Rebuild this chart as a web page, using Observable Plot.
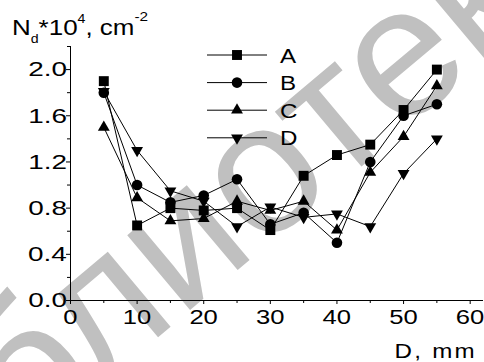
<!DOCTYPE html>
<html>
<head>
<meta charset="utf-8">
<script src="https://cdn.jsdelivr.net/npm/d3@7"></script>
<script src="https://cdn.jsdelivr.net/npm/@observablehq/plot@0.6"></script>
<style>
  html, body { margin: 0; padding: 0; background: #fff; }
  #chart { position: relative; width: 484px; height: 362px; overflow: hidden; }
  svg { font-family: "Liberation Sans", Arial, sans-serif; }
</style>
</head>
<body>
<div id="chart"></div>
<script>
// ---- data ----
const xValues = [5, 10, 15, 20, 25, 30, 35, 40, 45, 50, 55];
const seriesNames = ["A", "B", "C", "D"];
const seriesA = [1.90, 0.65, 0.80, 0.78, 0.80, 0.61, 1.08, 1.26, 1.35, 1.65, 2.00];
const seriesB = [1.80, 1.00, 0.85, 0.91, 1.05, 0.66, 0.76, 0.50, 1.20, 1.60, 1.70];
const seriesC = [1.50, 0.89, 0.69, 0.71, 0.86, 0.78, 0.86, 0.61, 1.11, 1.42, 1.86];
const seriesD = [1.81, 1.30, 0.95, 0.86, 0.64, 0.81, 0.72, 0.75, 0.64, 1.10, 1.40];
const xTicks = [0, 10, 20, 30, 40, 50, 60];
const xMinorTicks = [5, 15, 25, 35, 45, 55];
const yTicks = [0, 0.4, 0.8, 1.2, 1.6, 2.0];
const yMinorTicks = [0.2, 0.6, 1.0, 1.4, 1.8, 2.2];
const xTitle = "D, mm";
const watermarkText = "библиотека";

// ---- styles ----
const seriesValues = [seriesA, seriesB, seriesC, seriesD];
const symbolOf = {A: "square", B: "circle", C: "triangle", D: "triangle"};
const rOf = {A: 5.6, B: 5.3, C: 4.4, D: 4.4};
const rotOf = {A: 0, B: 0, C: 0, D: 180};

const rows = [];
seriesNames.forEach((s, i) => xValues.forEach((x, j) => rows.push({s, x, y: seriesValues[i][j]})));

const marks = [
  Plot.ruleY([0], {stroke: "black", strokeWidth: 1}),
  Plot.ruleX([0], {stroke: "black", strokeWidth: 1}),
  Plot.axisX({ticks: xTicks, tickSize: 4, tickPadding: 5, fontSize: 21, label: null, stroke: "black", fill: "black", tickFormat: d => String(d)}),
  Plot.axisX({ticks: xMinorTicks, tickSize: 3, tickFormat: () => "", label: null, stroke: "black"}),
  Plot.axisY({ticks: yTicks, tickSize: 4, tickPadding: 1, fontSize: 21, label: null, stroke: "black", fill: "black", tickFormat: d3.format(".1f")}),
  Plot.axisY({ticks: yMinorTicks, tickSize: 3, tickFormat: () => "", label: null, stroke: "black"}),
  Plot.line(rows, {x: "x", y: "y", z: "s", stroke: "black", strokeWidth: 1})
];
seriesNames.forEach(s => {
  marks.push(Plot.dot(rows.filter(d => d.s === s), {
    x: "x", y: "y", symbol: symbolOf[s], r: rOf[s], rotate: rotOf[s], fill: "black", stroke: "none"
  }));
});

const svgEl = Plot.plot({
  width: 484, height: 362,
  marginLeft: 70, marginRight: 1, marginTop: 46, marginBottom: 62,
  style: {background: "transparent", fontFamily: "Liberation Sans, Arial, sans-serif", overflow: "visible"},
  x: {domain: [0, 62]},
  y: {domain: [0, 2.2]},
  marks
});
document.getElementById("chart").appendChild(svgEl);
const svg = d3.select(svgEl);

// horizontally stretch tick labels (the reference's text is wide) by wrapping each in a group
function stretchAll(selector, s, anchor) {
  const box = svgEl.getBoundingClientRect();
  svg.selectAll(selector).each(function() {
    const r = this.getBoundingClientRect();
    if (!r.width) return;
    const ax = (anchor === "end" ? r.right : (r.left + r.right) / 2) - box.left;
    const g = document.createElementNS("http://www.w3.org/2000/svg", "g");
    g.setAttribute("transform", `translate(${ax},0) scale(${s},1) translate(${-ax},0)`);
    this.parentNode.insertBefore(g, this);
    g.appendChild(this);
  });
}
stretchAll('g[aria-label="x-axis tick label"] text', 1.22, "middle");
stretchAll('g[aria-label="y-axis tick label"] text', 1.33, "end");

// watermark (behind everything)
const em = 185;
const wm = svg.insert("text", ":first-child")
  .attr("text-anchor", "start")
  .attr("font-size", em)
  .attr("font-family", "Liberation Sans, Arial, sans-serif")
  .attr("fill", "#c0c0c0")
  .text(watermarkText);
const pre = wm.node().getSubStringLength(0, 5);
wm.attr("transform", `translate(268,182) rotate(-40) translate(${-(pre + 0.278 * em)},${0.26 * em})`);

// y title
const yt = svg.append("text")
  .attr("text-anchor", "start")
  .attr("transform", "translate(12,35) scale(1.18,1)")
  .attr("font-size", 22).attr("fill", "black");
yt.append("tspan").text("N");
yt.append("tspan").attr("font-size", 12).attr("dy", 8).text("d");
yt.append("tspan").attr("dy", -8).text("*10");
yt.append("tspan").attr("font-size", 12).attr("dy", -12).text("4");
yt.append("tspan").attr("dy", 12).text(", cm");
yt.append("tspan").attr("font-size", 13).attr("dy", -14).text("-2");

// x title
svg.append("text")
  .attr("transform", "translate(477,358) scale(1.15,1)")
  .attr("text-anchor", "end").attr("font-size", 21).attr("letter-spacing", 2)
  .attr("fill", "black").text(xTitle);

// legend
const lg = svg.append("g");
seriesNames.forEach((s, i) => {
  const cy = 55 + i * 27.6;
  lg.append("line").attr("x1", 207).attr("x2", 267).attr("y1", cy).attr("y2", cy)
    .attr("stroke", "black").attr("stroke-width", 1);
  const sym = {square: d3.symbolSquare, circle: d3.symbolCircle, triangle: d3.symbolTriangle}[symbolOf[s]];
  lg.append("path").attr("d", d3.symbol(sym, Math.PI * rOf[s] * rOf[s])())
    .attr("transform", `translate(237,${cy}) rotate(${rotOf[s]})`).attr("fill", "black");
  lg.append("text").attr("text-anchor", "start")
    .attr("transform", `translate(280,${cy + 7.5}) scale(1.15,1)`)
    .attr("font-size", 21).attr("fill", "black").text(s);
});
</script>
</body>
</html>
